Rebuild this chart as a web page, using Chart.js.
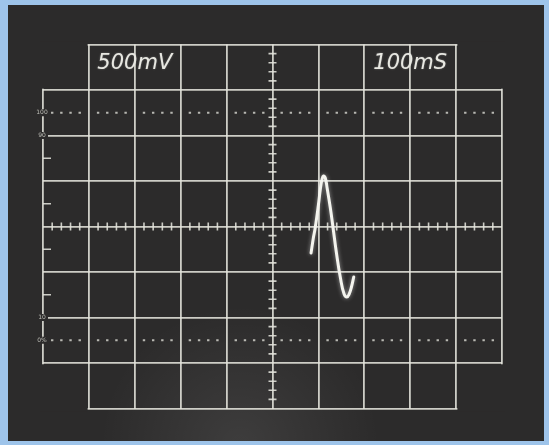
<!DOCTYPE html>
<html>
<head>
<meta charset="utf-8">
<script src="https://cdn.jsdelivr.net/npm/chart.js@4/dist/chart.umd.min.js"></script>
<style>
  html, body { margin: 0; padding: 0; background: #9ec4ea; }
  #wrap { width: 549px; height: 445px; position: relative; }
</style>
</head>
<body>
<div id="wrap"><canvas id="scope"></canvas></div>
<script>
// Данные осциллограммы (мс, мВ)
const timeMs = [584, 589, 593, 600, 604, 608, 611, 615, 619, 626, 632, 639, 648, 656, 662, 667, 672, 677];
const voltsMv = [-291, -126, -16, 236, 401, 522, 555, 533, 423, 203, -16, -280, -566, -742, -775, -742, -665, -555];

// Подписи развёртки и уровни 0/10/90/100 %
const voltsPerDiv = "500mV";
const timePerDiv = "100mS";
const riseLevels = [1250, 1000, -1000, -1250];
const riseLabels = ["100", "90", "10", "0%"];

// Сетка экрана
const X_MIN = 0, X_MAX = 1000, X_DIV = 100, X_MINOR = 20;
const Y_MIN = -2000, Y_MAX = 2000, Y_DIV = 500, Y_MINOR = 100;

const SCREEN = "#2c2b2b";
const GRID = "rgba(228,228,220,0.88)";

const graticule = {
  id: "graticule",
  beforeDraw(chart) {
    const ctx = chart.ctx;
    ctx.save();
    ctx.fillStyle = SCREEN;
    ctx.fillRect(8, 5, 536, 436);
    // лёгкое свечение внизу экрана
    const g = ctx.createRadialGradient(240, 445, 10, 240, 445, 140);
    g.addColorStop(0, "rgba(255,255,255,0.08)");
    g.addColorStop(1, "rgba(255,255,255,0)");
    ctx.fillStyle = g;
    ctx.fillRect(8, 5, 536, 436);
    ctx.restore();
  },
  beforeDatasetsDraw(chart) {
    const { ctx, scales: { x, y } } = chart;
    const px = (v) => x.getPixelForValue(v);
    const py = (v) => y.getPixelForValue(v);
    ctx.save();

    // Убираем углы сетки (экран 10x6 + 8x8)
    ctx.fillStyle = SCREEN;
    const l = px(X_MIN), r = px(X_MAX), l1 = px(X_MIN + X_DIV), r1 = px(X_MAX - X_DIV);
    const t = py(Y_MAX), b = py(Y_MIN), t1 = py(Y_MAX - Y_DIV), b1 = py(Y_MIN + Y_DIV);
    ctx.fillRect(l - 3, t - 3, l1 - 1.3 - (l - 3), t1 - 1.3 - (t - 3));
    ctx.fillRect(r1 + 1.3, t - 3, r + 3 - (r1 + 1.3), t1 - 1.3 - (t - 3));
    ctx.fillRect(l - 3, b1 + 1.3, l1 - 1.3 - (l - 3), b + 3 - (b1 + 1.3));
    ctx.fillRect(r1 + 1.3, b1 + 1.3, r + 3 - (r1 + 1.3), b + 3 - (b1 + 1.3));

    ctx.strokeStyle = GRID;
    ctx.lineWidth = 1.6;
    ctx.beginPath();
    // мелкие деления на центральной горизонтали
    const cy = py(0), cx = px((X_MIN + X_MAX) / 2);
    for (let v = X_MIN; v <= X_MAX; v += X_MINOR) {
      if (v % X_DIV === 0) continue;
      ctx.moveTo(px(v), cy - 4);
      ctx.lineTo(px(v), cy + 4);
    }
    // мелкие деления на центральной вертикали
    for (let v = Y_MIN; v <= Y_MAX; v += Y_MINOR) {
      if (v % Y_DIV === 0) continue;
      ctx.moveTo(cx - 4, py(v));
      ctx.lineTo(cx + 4, py(v));
    }
    // полуделения на левом краю
    for (let v = -750; v <= 750; v += Y_DIV) {
      ctx.moveTo(l, py(v));
      ctx.lineTo(l + 8, py(v));
    }
    ctx.stroke();

    // пунктир 0% и 100%
    ctx.fillStyle = "rgba(220,220,212,0.8)";
    [riseLevels[0], riseLevels[3]].forEach((lv) => {
      for (let v = X_MIN + X_MINOR; v < X_MAX; v += X_MINOR) {
        if (v % X_DIV === 0) continue;
        ctx.fillRect(px(v) - 1.2, py(lv) - 1, 2.4, 2);
      }
    });

    // крошечные подписи уровней
    ctx.font = "6px 'DejaVu Sans'";
    ctx.textAlign = "center";
    ctx.textBaseline = "middle";
    riseLabels.forEach((lab, i) => {
      const lv = riseLevels[i];
      ctx.fillStyle = SCREEN;
      ctx.fillRect(l - 6, py(lv) - 3.5, 11, 7);
      ctx.fillStyle = "#bdbdb6";
      ctx.fillText(lab, l - 1, py(lv));
    });

    // масштаб по осям
    ctx.font = "italic 21px 'DejaVu Sans'";
    ctx.fillStyle = "#e8e8e2";
    ctx.shadowColor = "rgba(255,255,255,0.35)";
    ctx.shadowBlur = 2;
    ctx.fillText(voltsPerDiv, px(200), py(1790));
    ctx.fillText(timePerDiv, px(800), py(1790));
    ctx.restore();
  },
  beforeDatasetDraw(chart) {
    chart.ctx.save();
    chart.ctx.shadowColor = "rgba(255,255,255,0.5)";
    chart.ctx.shadowBlur = 4;
  },
  afterDatasetDraw(chart) {
    chart.ctx.restore();
  }
};

const points = timeMs.map((t, i) => ({ x: t, y: voltsMv[i] }));

new Chart(document.getElementById("scope"), {
  type: "scatter",
  data: {
    datasets: [{
      data: points,
      showLine: true,
      borderColor: "#f4f4ee",
      borderWidth: 3,
      borderCapStyle: "round",
      tension: 0.45,
      pointRadius: 0
    }]
  },
  options: {
    responsive: true,
    maintainAspectRatio: false,
    animation: false,
    layout: { padding: { left: 43, right: 47, top: 44.5, bottom: 36.5 } },
    plugins: { legend: { display: false }, tooltip: { enabled: false } },
    scales: {
      x: {
        type: "linear", min: X_MIN, max: X_MAX,
        ticks: { display: false, stepSize: X_DIV },
        grid: { color: GRID, lineWidth: 1.8, drawTicks: false },
        border: { display: false }
      },
      y: {
        type: "linear", min: Y_MIN, max: Y_MAX,
        ticks: { display: false, stepSize: Y_DIV },
        grid: { color: GRID, lineWidth: 1.8, drawTicks: false },
        border: { display: false }
      }
    }
  },
  plugins: [graticule]
});
</script>
</body>
</html>
